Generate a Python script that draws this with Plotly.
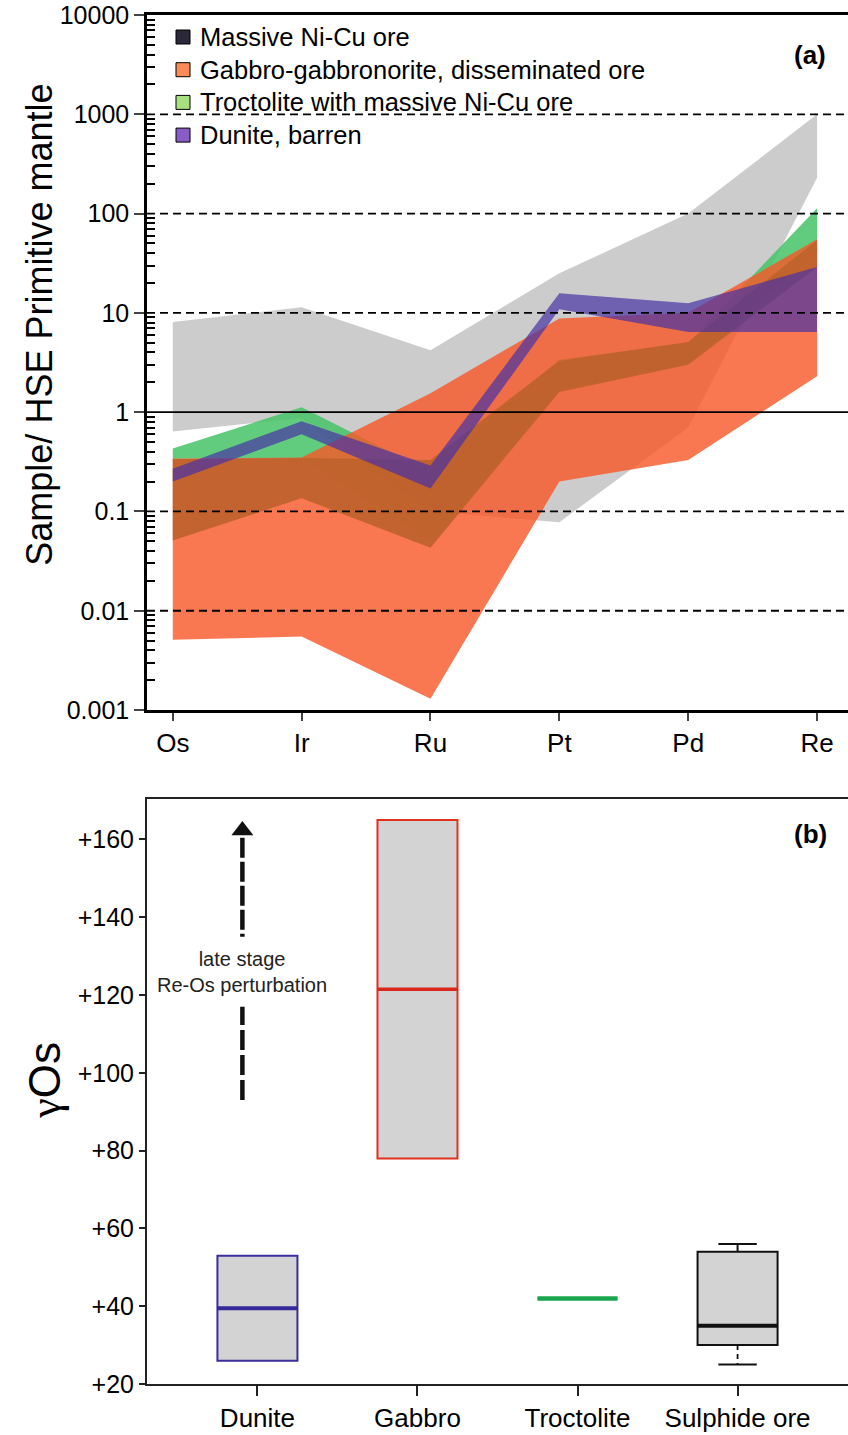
import plotly.graph_objects as go

# ---------------- Panel (a) data ----------------
elements = ["Os", "Ir", "Ru", "Pt", "Pd", "Re"]
gray_hi = [8.1, 11.4, 4.2, 25, 100, 1000]
gray_lo = [0.64, 0.87, 0.1, 0.078, 0.7, 230]
gabbro_hi = [0.34, 0.35, 1.55, 8.8, 10, 55]
gabbro_lo = [0.0051, 0.0055, 0.0013, 0.2, 0.33, 2.3]
massive_hi = [0.34, 0.345, 0.33, 3.3, 5.1, 54]
massive_lo = [0.051, 0.136, 0.043, 1.6, 3.0, 29]
troct_hi = [0.43, 1.12, 0.25, 3.4, 5.0, 113]
troct_lo = [0.34, 0.345, 0.05, 1.7, 3.1, 40]
dunite_hi = [0.27, 0.81, 0.29, 15.8, 12.5, 29]
dunite_lo = [0.2, 0.6, 0.17, 10.9, 6.4, 6.4]

legend_names = ["Massive Ni-Cu ore", "Gabbro-gabbronorite, disseminated ore",
                "Troctolite with massive Ni-Cu ore", "Dunite, barren"]
legend_colors = ["#2b2838", "#f98a5a", "#a8e080", "#8a5cc6"]

y_major = [0.001, 0.01, 0.1, 1, 10, 100, 1000, 10000]
y_major_text = ["0.001", "0.01", "0.1", "1", "10", "100", "1000", "10000"]
grid_dashed = [0.01, 0.1, 10, 100, 1000]
ref_line = 1

# ---------------- Panel (b) data ----------------
rocks = ["Dunite", "Gabbro", "Troctolite", "Sulphide ore"]
q1 = [26, 78, 42, 30]
med = [39.5, 121.5, 42, 35]
q3 = [53, 165, 42, 54]
lo_whisk = [26, 78, 42, 25]
hi_whisk = [53, 165, 42, 56]
box_line = ["#3a2d9c", "#e0301e", "#1aa850", "#111111"]
med_line = ["#34289a", "#d9271c", "#19a64f", "#111111"]
med_width = [4, 3.5, 4.5, 4]
gamma_ticks = [20, 40, 60, 80, 100, 120, 140, 160]
gamma_text = ["+20", "+40", "+60", "+80", "+100", "+120", "+140", "+160"]

fig = go.Figure()

xi = list(range(len(elements)))


def band(lo, hi, color, name):
    xs = xi + xi[::-1]
    ys = hi + lo[::-1]
    fig.add_trace(go.Scatter(x=xs, y=ys, fill="toself", fillcolor=color,
                             mode="none", name=name, showlegend=False,
                             hoverinfo="skip", xaxis="x", yaxis="y"))


band(gray_lo, gray_hi, "#cccccc", "field")
band(troct_lo, troct_hi, "rgba(70,195,103,0.85)", legend_names[2])
band(gabbro_lo, gabbro_hi, "rgba(248,86,39,0.8)", legend_names[1])
band(massive_lo, massive_hi, "rgba(190,98,44,0.92)", legend_names[0])
band(dunite_lo, dunite_hi, "rgba(73,50,164,0.7)", legend_names[3])

# legend (swatches + labels) in panel (a) domain coordinates
PW, PH = 701.0, 695.0
for k, (n, c) in enumerate(zip(legend_names, legend_colors)):
    yc = 1 - (22 + 32.7 * k) / PH
    fig.add_shape(type="rect", xref="x domain", yref="y domain",
                  x0=29 / PW, x1=43 / PW, y0=yc - 7 / PH, y1=yc + 7 / PH,
                  fillcolor=c, line=dict(color="black", width=1), layer="above")
    fig.add_annotation(xref="x domain", yref="y domain", x=51 / PW, y=yc,
                       xanchor="left", yanchor="middle", showarrow=False,
                       text=n, font=dict(size=25.5))

# grid lines on top of bands
for v in grid_dashed:
    fig.add_shape(type="line", xref="x domain", x0=0, x1=1, yref="y", y0=v, y1=v,
                  line=dict(color="black", width=1.8, dash="8px,5px"), layer="above")
fig.add_shape(type="line", xref="x domain", x0=0, x1=1, yref="y", y0=ref_line, y1=ref_line,
              line=dict(color="black", width=1.8), layer="above")

minor_vals = []
for d in y_major[:-1]:
    for k in range(2, 10):
        minor_vals.append(d * k)

# ---------------- Panel (b) ----------------
for i in range(len(rocks)):
    fig.add_trace(go.Box(x=[i], q1=[q1[i]], median=[med[i]], q3=[q3[i]],
                         lowerfence=[q1[i]], upperfence=[q3[i]], width=0.5,
                         fillcolor="#d3d3d3", line=dict(color=box_line[i], width=2),
                         whiskerwidth=0, showlegend=False, hoverinfo="skip",
                         xaxis="x2", yaxis="y2"))
    fig.add_trace(go.Scatter(x=[i - 0.25, i + 0.25], y=[med[i], med[i]], mode="lines",
                             line=dict(color=med_line[i], width=med_width[i]),
                             showlegend=False, hoverinfo="skip", xaxis="x2", yaxis="y2"))
    if hi_whisk[i] > q3[i]:
        fig.add_trace(go.Scatter(x=[i, i, None, i - 0.12, i + 0.12],
                                 y=[q3[i], hi_whisk[i], None, hi_whisk[i], hi_whisk[i]],
                                 mode="lines", line=dict(color="#111111", width=2),
                                 showlegend=False, hoverinfo="skip", xaxis="x2", yaxis="y2"))
    if lo_whisk[i] < q1[i]:
        fig.add_trace(go.Scatter(x=[i, i], y=[q1[i], lo_whisk[i]], mode="lines",
                                 line=dict(color="#111111", width=1.8, dash="5px,4px"),
                                 showlegend=False, hoverinfo="skip", xaxis="x2", yaxis="y2"))
        fig.add_trace(go.Scatter(x=[i - 0.12, i + 0.12], y=[lo_whisk[i], lo_whisk[i]],
                                 mode="lines", line=dict(color="#111111", width=2),
                                 showlegend=False, hoverinfo="skip", xaxis="x2", yaxis="y2"))

# dashed arrow (late stage perturbation)
ax = -0.094
fig.add_trace(go.Scatter(x=[ax, ax], y=[93, 117], mode="lines",
                         line=dict(color="#111111", width=4.5, dash="20px,5px"),
                         showlegend=False, hoverinfo="skip", xaxis="x2", yaxis="y2"))
fig.add_trace(go.Scatter(x=[ax, ax], y=[135, 160.5], mode="lines",
                         line=dict(color="#111111", width=4.5, dash="3px,4px,20px,4px,20px,4px,20px,4px,20px"),
                         showlegend=False, hoverinfo="skip", xaxis="x2", yaxis="y2"))
fig.add_trace(go.Scatter(x=[ax], y=[162.3], mode="markers",
                         marker=dict(symbol="triangle-up", size=19, color="#111111"),
                         showlegend=False, hoverinfo="skip", xaxis="x2", yaxis="y2"))

fig.add_annotation(x=ax, y=125.9, xref="x2", yref="y2", showarrow=False,
                   xanchor="center", yanchor="middle",
                   text="late stage<br>Re-Os perturbation", font=dict(size=20, color="#222"))

fig.add_annotation(xref="x domain", yref="y domain", x=0.946, y=0.9424, showarrow=False,
                   xanchor="center", yanchor="middle",
                   text="<b>(a)</b>", font=dict(size=26))
fig.add_annotation(xref="x2 domain", yref="y2 domain", x=0.946, y=0.941, showarrow=False,
                   xanchor="center", yanchor="middle",
                   text="<b>(b)</b>", font=dict(size=26))

fig.add_annotation(xref="paper", yref="paper", x=-0.153, y=0.7736, showarrow=False,
                   xanchor="center", yanchor="middle",
                   textangle=-90, text="Sample/ HSE Primitive mantle", font=dict(size=36))
fig.add_annotation(xref="paper", yref="paper", x=-0.146, y=0.222, showarrow=False,
                   xanchor="center", yanchor="middle", textangle=-90,
                   text="<span style='font-family:Liberation Serif'>γ</span>Os",
                   font=dict(size=44))

fig.update_layout(
    width=848, height=1435,
    margin=dict(l=147, r=0, t=15, b=51, autoexpand=False),
    paper_bgcolor="white", plot_bgcolor="white",
    font=dict(family="Liberation Sans, Arial, sans-serif", color="black"),
    boxmode="overlay", showlegend=False,
    xaxis=dict(domain=[0, 1], anchor="y", range=[-0.2, 5.24], tickmode="array",
               tickvals=xi, ticktext=elements, ticks="outside", ticklen=8, tickwidth=2,
               showline=True, linewidth=2.5, linecolor="black", mirror=True,
               showgrid=False, zeroline=False, tickfont=dict(size=26), automargin=False,
               ticklabeloverflow="allow"),
    yaxis=dict(domain=[0.4923, 1], anchor="x", type="log", range=[-3, 4],
               tickmode="array", tickvals=y_major, ticktext=y_major_text,
               ticks="outside", ticklen=10, tickwidth=2, showline=True, linewidth=2.5,
               linecolor="black", showgrid=False, zeroline=False, tickfont=dict(size=25),
               automargin=False, ticklabeloverflow="allow",
               minor=dict(tickmode="array", tickvals=minor_vals, ticks="inside",
                          ticklen=8, tickwidth=1.5, tickcolor="black", showgrid=False)),
    xaxis2=dict(domain=[0, 1], anchor="y2", range=[-0.69, 3.69], tickmode="array",
                tickvals=list(range(len(rocks))), ticktext=rocks, ticks="outside",
                ticklen=10, tickwidth=1.5, tickcolor="#222", showline=True, linewidth=2,
                linecolor="#222", mirror=True, showgrid=False, zeroline=False,
                tickfont=dict(size=26), automargin=False, ticklabeloverflow="allow"),
    yaxis2=dict(domain=[0, 0.4273], anchor="x2", range=[20, 170.4], tickmode="array",
                tickvals=gamma_ticks, ticktext=gamma_text, ticks="outside", ticklen=6,
                tickwidth=1.5, tickcolor="#222", showline=True, linewidth=2,
                linecolor="#222", showgrid=False, zeroline=False, tickfont=dict(size=25),
                automargin=False, ticklabeloverflow="allow"),
)

# remove the default 8px page margin so the figure fills the window exactly
fig.write_html("out.html", config={"displayModeBar": False},
               post_script="document.body.style.margin='0px';")
